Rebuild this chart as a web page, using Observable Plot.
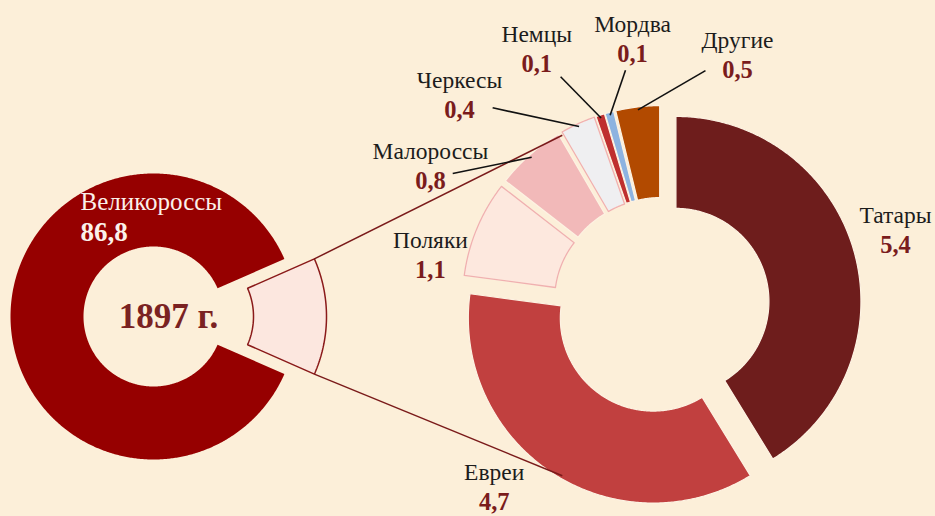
<!DOCTYPE html>
<html>
<head>
<meta charset="utf-8">
<script src="https://cdn.jsdelivr.net/npm/d3@7"></script>
<script src="https://cdn.jsdelivr.net/npm/@observablehq/plot@0.6"></script>
<style>
  html, body { margin: 0; padding: 0; background: #fcefd9; }
  #chart { width: 935px; height: 516px; overflow: hidden; }
  #chart svg { display: block; }
</style>
</head>
<body>
<div id="chart"></div>
<script>
// ---------------- DATA ----------------
const mainCategories = ["Великороссы", "Прочие"];
const mainValues = [86.8, 13.2];
const detailCategories = ["Татары", "Евреи", "Поляки", "Малороссы", "Черкесы", "Немцы", "Мордва", "Другие"];
const detailValues = [5.4, 4.7, 1.1, 0.8, 0.4, 0.1, 0.1, 0.5];
const yearLabel = "1897 г.";

// ---------------- STYLE / LAYOUT ----------------
const W = 935, H = 516;
const mainColors = ["#960000", "#fce7df"];
const detailColors = ["#6e1d1c", "#c1403f", "#fde8de", "#f2b9b9", "#efeff1", "#bf2f2f", "#8db3e0", "#b24a00"];
const pinkOutlined = ["Поляки", "Черкесы"];
const leftPie = { cx: 153, cy: 316, R: 143, r: 70, explode: 30 };
const rightPie = { cx: 661, cy: 305, R: 185, r: 93, explode: 15 };
// label block position per detail slice: [angle (deg, clockwise from top), radius]
const labelPolar = [[73.9, 243.5], [221.5, 252.5], [280.5, 235], [299.7, 266], [315, 285.7], [333.3, 277.7], [353.6, 260], [17.4, 254]];
// leader line start (label side) per detail slice, null = none
const leaderPolar = [null, null, null, [302.3, 247], [319.5, 260], [336.2, 250], [351.3, 238], [10.6, 239]];
const mainLabelPolar = [321.4, 117];

// ---------------- GEOMETRY ----------------
const rad = d => d * Math.PI / 180;
const pol = (cx, cy, r, deg) => [cx + r * Math.sin(rad(deg)), cy - r * Math.cos(rad(deg))];
function ring(cat, cx, cy, r0, r1, a0, a1) {
  const steps = Math.max(2, Math.ceil(Math.abs(a1 - a0) / 0.5));
  const pts = [];
  for (let i = 0; i <= steps; i++) pts.push(pol(cx, cy, r1, a0 + (a1 - a0) * i / steps));
  for (let i = steps; i >= 0; i--) pts.push(pol(cx, cy, r0, a0 + (a1 - a0) * i / steps));
  pts.push(pts[0]);
  return pts.map(([x, y]) => ({ cat, x, y }));
}
const fmt = v => d3.format(".1f")(v).replace(".", ",");

// left pie: the "Прочие" slice is centred on the right (90°)
const mainTotal = d3.sum(mainValues);
const otherSpan = mainValues[1] / mainTotal * 360;
const leftSlices = [
  { cat: mainCategories[0], a0: 90 + otherSpan / 2, a1: 450 - otherSpan / 2, off: 0 },
  { cat: mainCategories[1], a0: 90 - otherSpan / 2, a1: 90 + otherSpan / 2, off: leftPie.explode }
];
const leftRows = leftSlices.flatMap(s => {
  const mid = (s.a0 + s.a1) / 2;
  const [cx, cy] = pol(leftPie.cx, leftPie.cy, s.off, mid);
  return ring(s.cat, cx, cy, leftPie.r, leftPie.R, s.a0, s.a1);
});

// right pie
const detailTotal = d3.sum(detailValues);
const cum = d3.cumsum(detailValues);
const rightSlices = detailCategories.map((cat, i) => {
  const a0 = (cum[i] - detailValues[i]) / detailTotal * 360;
  const a1 = cum[i] / detailTotal * 360;
  return { cat, i, a0, a1, mid: (a0 + a1) / 2 };
});
const rightRows = rightSlices.flatMap(s => {
  const [cx, cy] = pol(rightPie.cx, rightPie.cy, rightPie.explode, s.mid);
  return ring(s.cat, cx, cy, rightPie.r, rightPie.R, s.a0, s.a1);
});

// labels
const detailLabels = rightSlices.map((s, i) => {
  const [x, y] = pol(rightPie.cx, rightPie.cy, labelPolar[i][1], labelPolar[i][0]);
  return { name: s.cat, value: fmt(detailValues[i]), x, y };
});
const leaders = rightSlices.filter((s, i) => leaderPolar[i]).map(s => {
  const [x1, y1] = pol(rightPie.cx, rightPie.cy, leaderPolar[s.i][1], leaderPolar[s.i][0]);
  const [x2, y2] = pol(rightPie.cx, rightPie.cy, rightPie.R + rightPie.explode - 3, s.mid);
  return { x1, y1, x2, y2 };
});
// series connector lines from the exploded slice corners to the secondary pie
const other = leftSlices[1];
const [ocx, ocy] = pol(leftPie.cx, leftPie.cy, other.off, 90);
const boundary = cum[3] / detailTotal * 360; // between Малороссы and Черкесы
const connectors = [
  { p: pol(ocx, ocy, leftPie.R, other.a0), q: pol(rightPie.cx, rightPie.cy, rightPie.R + rightPie.explode - 3, boundary) },
  { p: pol(ocx, ocy, leftPie.R, other.a1), q: pol(rightPie.cx, rightPie.cy, rightPie.R + rightPie.explode - 3, 540 - boundary) }
].map(({ p, q }) => ({ x1: p[0], y1: p[1], x2: q[0], y2: q[1] }));

const [mlx, mly] = pol(leftPie.cx, leftPie.cy, mainLabelPolar[1], mainLabelPolar[0]);
const mainLabel = [{ name: mainCategories[0], value: fmt(mainValues[0]), x: mlx, y: mly }];
const yearRow = [{ text: yearLabel, x: leftPie.cx + 15, y: leftPie.cy }];

const serif = "'Liberation Serif', 'Times New Roman', serif";

const chart = Plot.plot({
  width: W, height: H, margin: 0,
  style: { background: "#fcefd9", fontFamily: serif, overflow: "visible" },
  x: { domain: [0, W], range: [0, W], axis: null },
  y: { domain: [0, H], range: [0, H], axis: null },
  color: { domain: [...mainCategories, ...detailCategories], range: [...mainColors, ...detailColors] },
  marks: [
    Plot.line(leftRows, { x: "x", y: "y", z: "cat", fill: "cat", stroke: "none" }),
    Plot.line(leftRows.filter(d => d.cat === mainCategories[1]), { x: "x", y: "y", z: "cat", fill: "none", stroke: "#8a1a1a", strokeWidth: 1.5, strokeLinejoin: "miter" }),
    Plot.line(rightRows, { x: "x", y: "y", z: "cat", fill: "cat", stroke: "#fdf2e2", strokeWidth: 1.2 }),
    Plot.line(rightRows.filter(d => pinkOutlined.includes(d.cat)), { x: "x", y: "y", z: "cat", fill: "none", stroke: "#f0b0b0", strokeWidth: 1.3 }),
    Plot.link(connectors, { x1: "x1", y1: "y1", x2: "x2", y2: "y2", stroke: "#7a1a1a", strokeWidth: 1.5 }),
    Plot.link(leaders, { x1: "x1", y1: "y1", x2: "x2", y2: "y2", stroke: "#111", strokeWidth: 1.6 }),
    Plot.text(detailLabels, { x: "x", y: "y", text: "name", dy: -15, lineAnchor: "bottom", textAnchor: "middle", fontSize: 23.5, fill: "#1c1c1c", fontFamily: serif }),
    Plot.text(detailLabels, { x: "x", y: "y", text: "value", dy: 15, lineAnchor: "bottom", textAnchor: "middle", fontSize: 24.5, fontWeight: "bold", fill: "#7a1c1c", fontFamily: serif }),
    Plot.text(mainLabel, { x: "x", y: "y", text: "name", dy: -15, lineAnchor: "bottom", textAnchor: "start", fontSize: 25, fill: "#fbf0ea", fontFamily: serif }),
    Plot.text(mainLabel, { x: "x", y: "y", text: "value", dy: 16, lineAnchor: "bottom", textAnchor: "start", fontSize: 27, fontWeight: "bold", fill: "#fbf0ea", fontFamily: serif }),
    Plot.text(yearRow, { x: "x", y: "y", text: "text", dy: 11, lineAnchor: "bottom", textAnchor: "middle", fontSize: 35, fontWeight: "bold", fill: "#7a2222", fontFamily: serif })
  ]
});
document.getElementById("chart").appendChild(chart);
</script>
</body>
</html>
